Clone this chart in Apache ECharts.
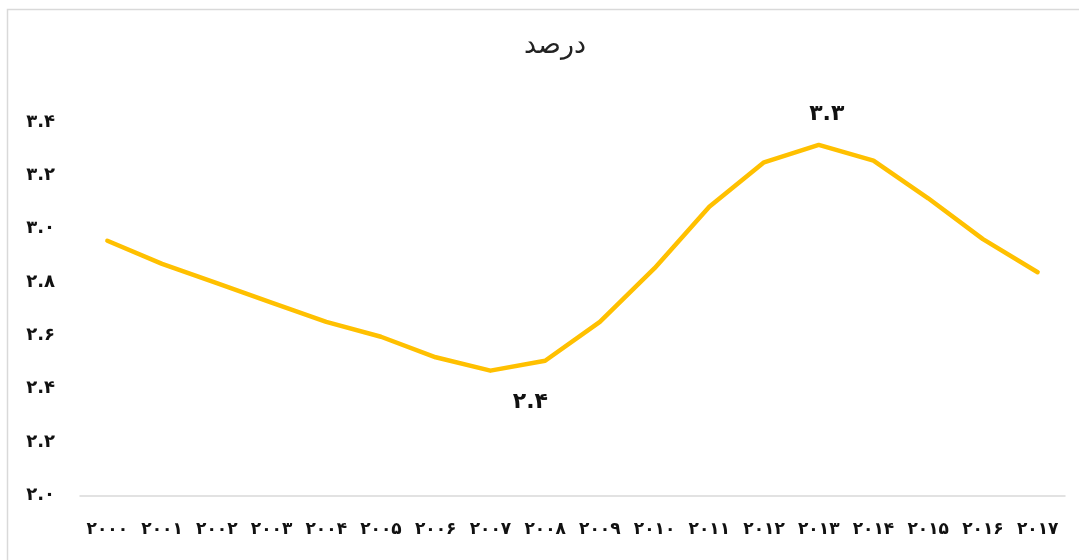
<!DOCTYPE html>
<html>
<head>
<meta charset="utf-8">
<script src="https://cdn.jsdelivr.net/npm/echarts@6/dist/echarts.min.js"></script>
<style>
html,body{margin:0;padding:0;background:#fff;}
#chart{width:1079px;height:560px;}
</style>
</head>
<body>
<div id="chart"></div>
<script>
var titleText = 'درصد';
var years = ['2000','2001','2002','2003','2004','2005','2006','2007','2008','2009','2010','2011','2012','2013','2014','2015','2016','2017'];
var values = [2.955,2.868,2.796,2.723,2.651,2.595,2.518,2.468,2.505,2.651,2.852,3.082,3.249,3.314,3.255,3.114,2.961,2.837];
var labelledYears = ['2007','2013'];
var yMin = 2.0, yMax = 3.4, yStep = 0.2;

var faDigits = ['۰','۱','۲','۳','۴','۵','۶','۷','۸','۹'];
function toFa(s){ return String(s).replace(/[0-9]/g, function(d){ return faDigits[+d]; }); }

var font = '"DejaVu Sans", sans-serif';
var seriesData = values.map(function(v, i){
  var item = {value: v};
  var idx = labelledYears.indexOf(years[i]);
  if (idx === 0) {
    item.label = {show:true, position:'bottom', offset:[40, 16]};
  } else if (idx === 1) {
    item.label = {show:true, position:'top', offset:[8, -15]};
  }
  return item;
});

var chart = echarts.init(document.getElementById('chart'));
chart.setOption({
  animation:false,
  backgroundColor:'#fff',
  title:{
    text:titleText, left:550, top:27, textAlign:'center',
    textStyle:{fontFamily:font, fontSize:27, fontWeight:'normal', color:'#222'}
  },
  grid:{left:80, right:14, top:122, bottom:64.5, containLabel:false},
  xAxis:{
    type:'category', data:years, boundaryGap:true,
    axisLine:{show:true, lineStyle:{color:'#d9d9d9', width:1.5}},
    axisTick:{show:false},
    axisLabel:{formatter:function(v){return toFa(v);}, margin:26, fontFamily:font, fontSize:17, fontWeight:'bold', color:'#111'},
    splitLine:{show:false}
  },
  yAxis:{
    type:'value', min:yMin, max:yMax, interval:yStep,
    axisLine:{show:false}, axisTick:{show:false},
    splitLine:{show:false},
    axisLabel:{formatter:function(v){return toFa(v.toFixed(1));}, margin:25, fontFamily:font, fontSize:18, fontWeight:'bold', color:'#111'}
  },
  series:[{
    type:'line', data:seriesData, symbol:'circle', symbolSize:0.1, showSymbol:true,
    lineStyle:{color:'#FFC000', width:4.5, cap:'round', join:'round'},
    itemStyle:{color:'#FFC000'},
    label:{show:false, fontFamily:font, fontSize:22, fontWeight:'bold', color:'#111',
      formatter:function(p){ return toFa((Math.floor(p.value*10+1e-9)/10).toFixed(1)); }}
  }],
  graphic:[{
    type:'rect', shape:{x:7.5, y:9.5, width:1080, height:560},
    style:{fill:'none', stroke:'#d9d9d9', lineWidth:1.5}, silent:true
  }]
});
</script>
</body>
</html>
